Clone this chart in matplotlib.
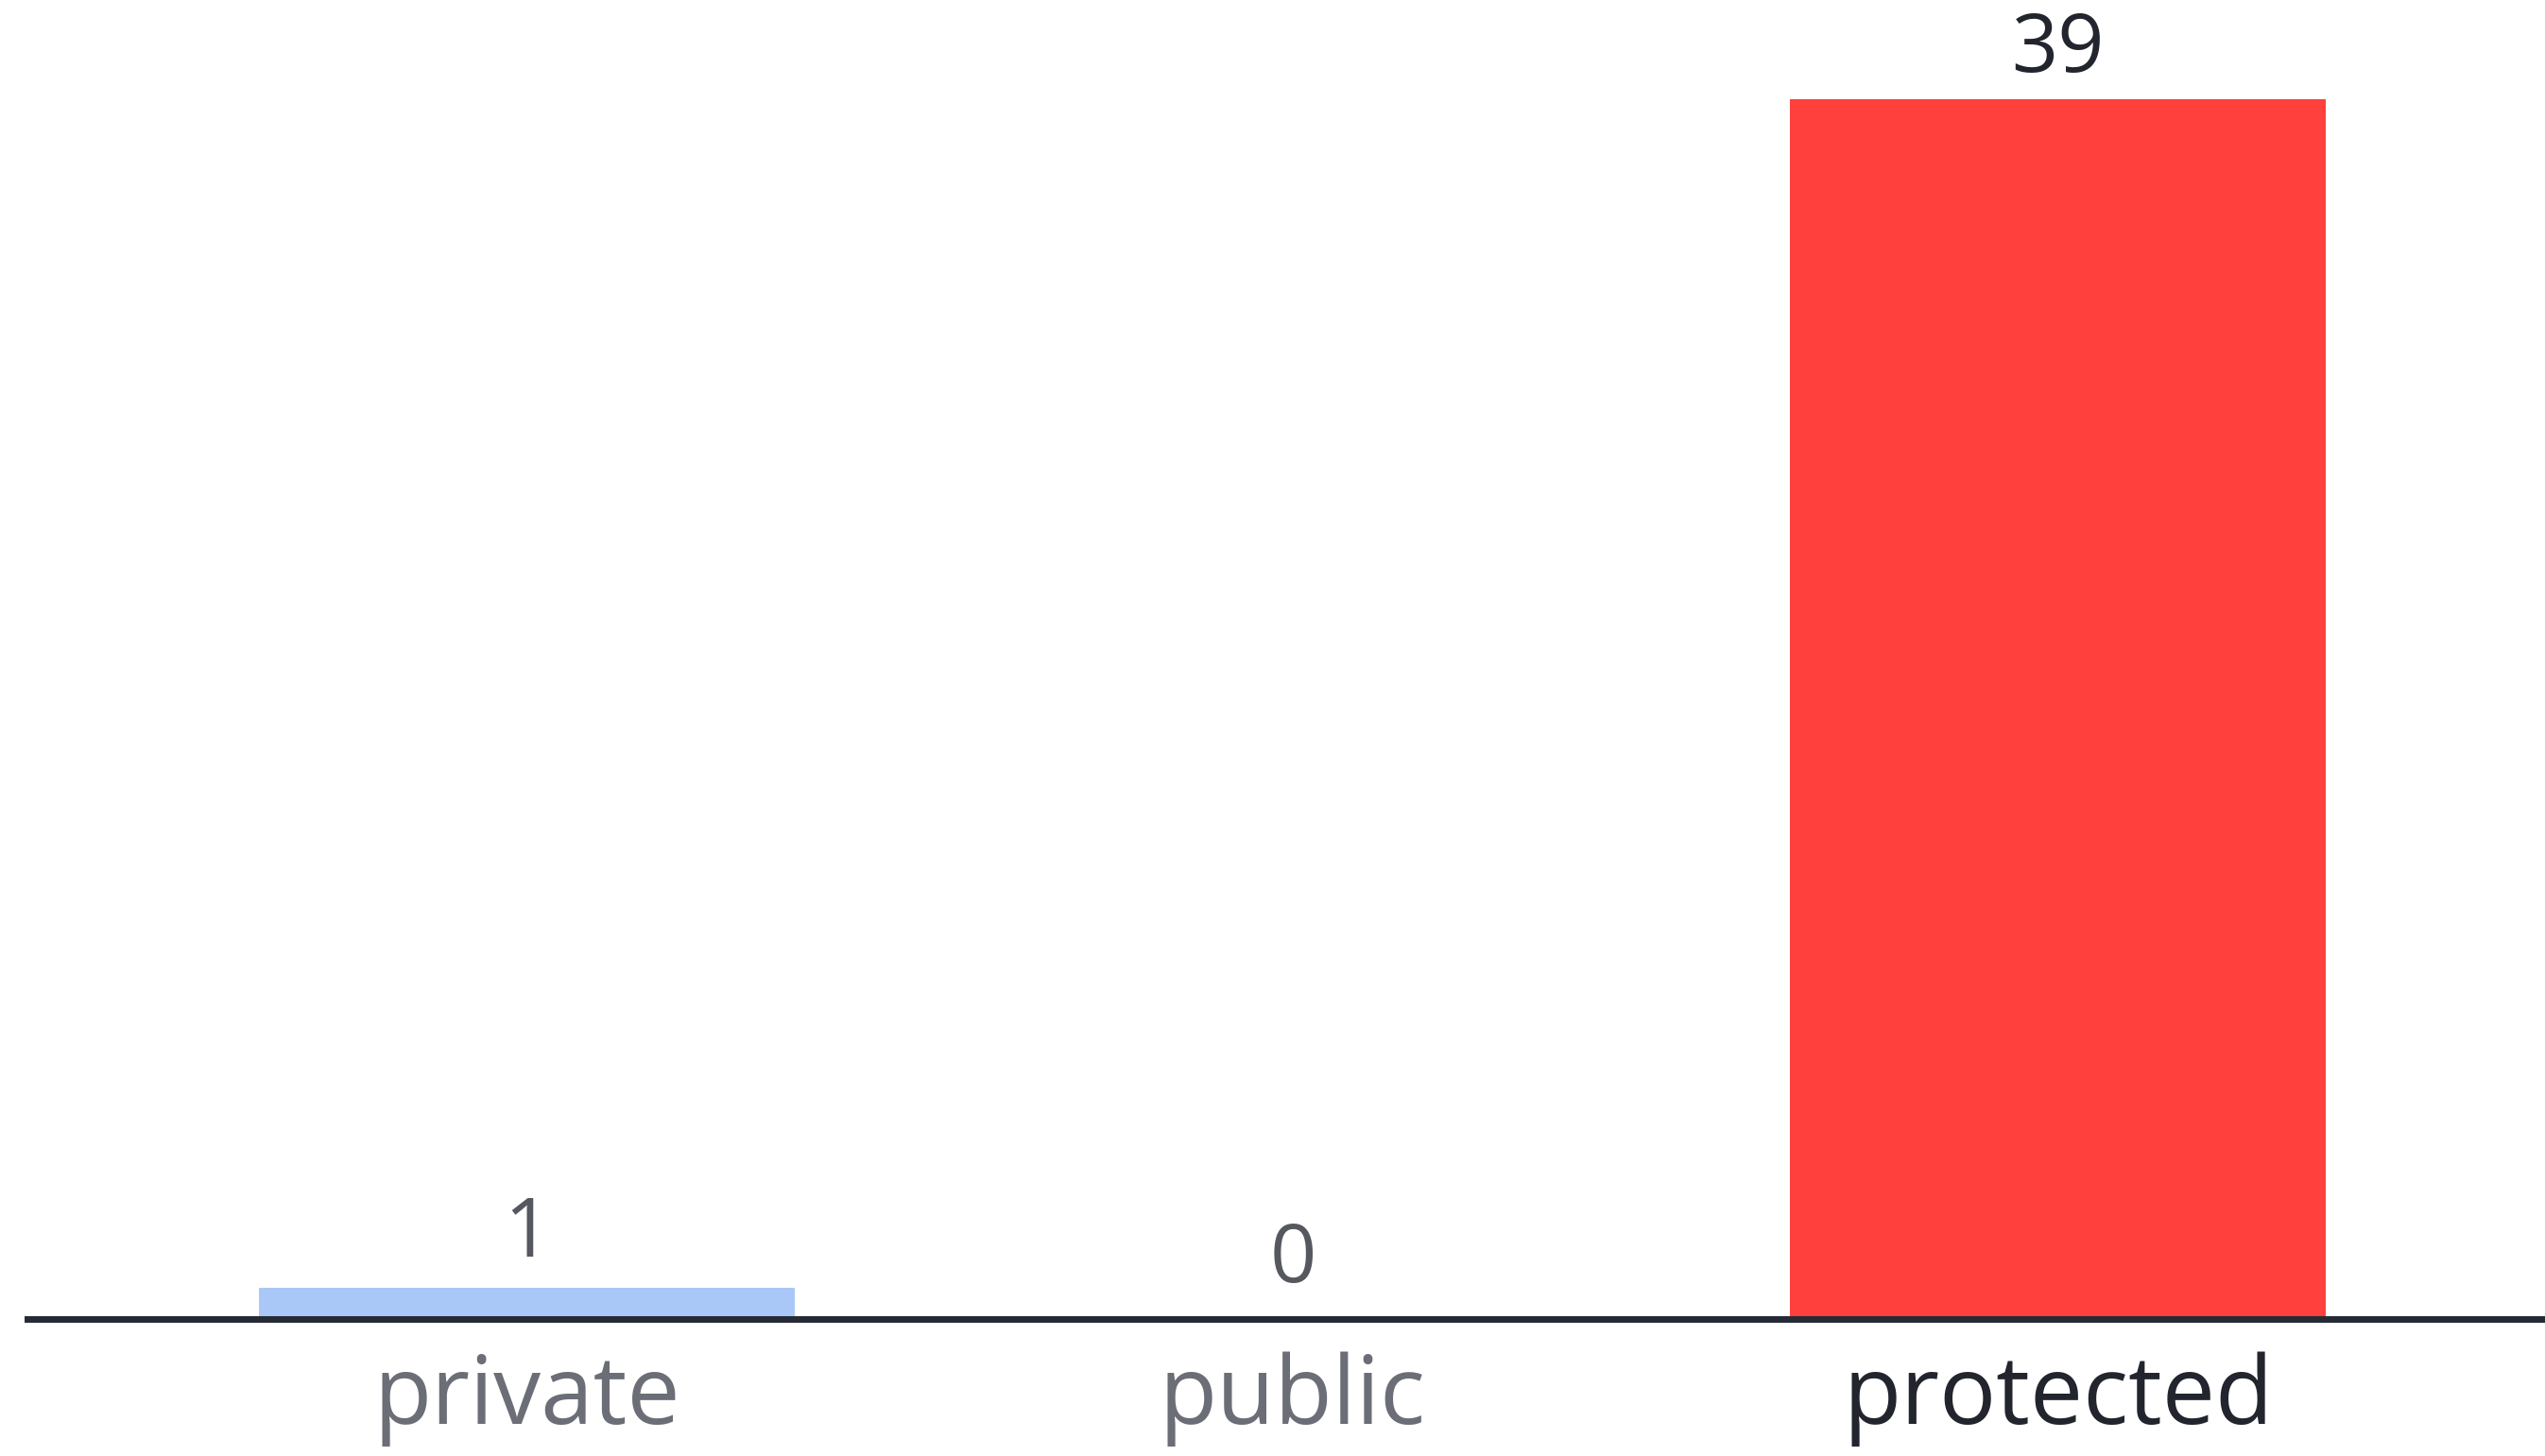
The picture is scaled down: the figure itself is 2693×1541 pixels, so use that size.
import matplotlib
matplotlib.use("Agg")
import matplotlib.pyplot as plt

# ── data ─────────────────────────────────────────────────────────────────────
categories = ["private", "public", "protected"]
counts = [1, 0, 39]

bar_colors = ["#A9C8F7", "#A9C8F7", "#FF403D"]
label_colors = ["#6B6E76", "#6B6E76", "#22252D"]
value_colors = ["#55585F", "#55585F", "#22252D"]

plt.rcParams["font.family"] = ["Open Sans", "DejaVu Sans"]

W, H, DPI = 2693, 1541, 100
fig = plt.figure(figsize=(W / DPI, H / DPI), dpi=DPI, facecolor="white")
ax = fig.add_axes([29 / W, 145 / H, 1 - 29 / W, 1 - 145 / H])

x = list(range(len(categories)))
bars = ax.bar(x, counts, width=0.70, color=bar_colors, zorder=2)

ax.set_xlim(-0.653, 2.636)
ax.set_ylim(0, 42.17)

# value labels above bars
for xi, v, c in zip(x, counts, value_colors):
    off = {0: 28, 1: 24}.get(v, 21)
    ax.annotate(str(v), (xi, v), xytext=(0, off), textcoords="offset points",
                ha="center", va="baseline", fontsize=62, color=c)

# axis styling
for side in ["top", "right", "left"]:
    ax.spines[side].set_visible(False)
ax.spines["bottom"].set_color("#252A34")
ax.spines["bottom"].set_linewidth(5)
ax.spines["bottom"].set_zorder(3)
ax.set_yticks([])
ax.set_xticks(x)
ax.set_xticklabels(categories, fontsize=72)
ax.tick_params(axis="x", length=0, pad=25)
for lbl, c in zip(ax.get_xticklabels(), label_colors):
    lbl.set_color(c)

fig.savefig("out.png", dpi=DPI, facecolor="white")
